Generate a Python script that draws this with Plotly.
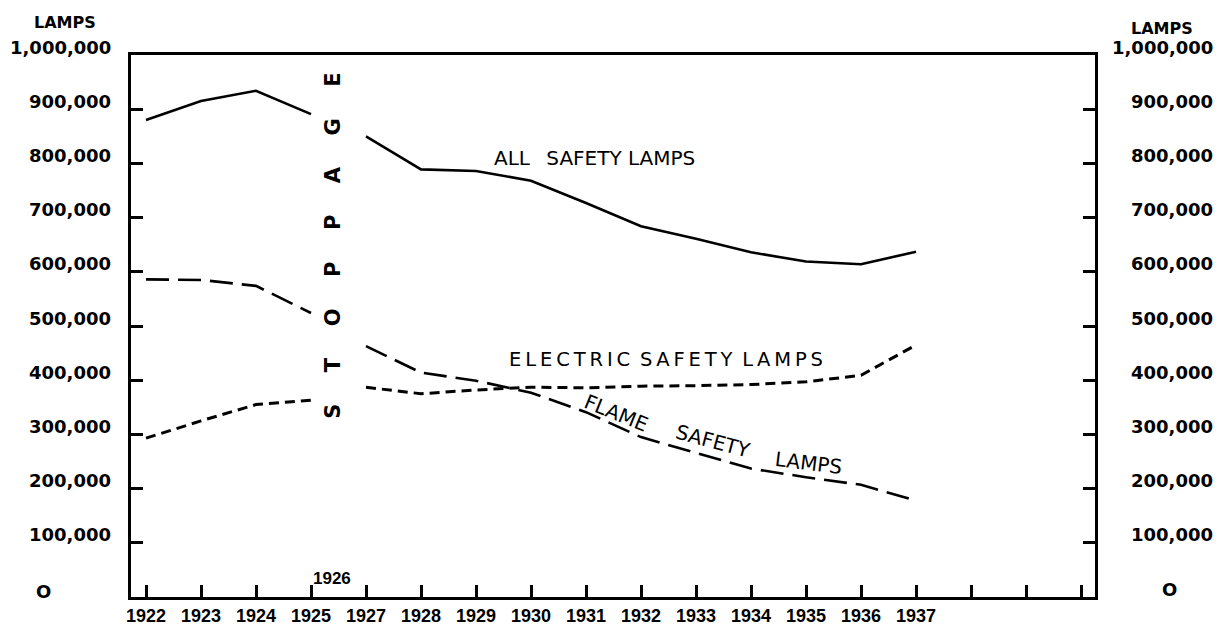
import plotly.graph_objects as go

# ---- data (lamps) ----
years = [1922, 1923, 1924, 1925, 1926, 1927, 1928, 1929, 1930,
         1931, 1932, 1933, 1934, 1935, 1936, 1937]
all_lamps = [880000, 915000, 934000, 891000, None, 850000, 789000, 786000, 768000,
             727000, 684000, 661000, 636000, 619000, 614000, 637000]
electric_lamps = [293000, 325000, 355000, 363000, None, 387000, 375000, 382000, 387000,
                  386000, 389000, 390000, 392000, 397000, 409000, 465000]
flame_lamps = [586000, 585000, 574000, 524000, None, 463000, 414000, 399000, 377000,
               341000, 295000, 266000, 237000, 221000, 207000, 178000]

tick_years = [1922, 1923, 1924, 1925, 1927, 1928, 1929, 1930, 1931,
              1932, 1933, 1934, 1935, 1936, 1937]
extra_ticks = 3
y_ticks = [0, 100000, 200000, 300000, 400000, 500000, 600000, 700000, 800000, 900000, 1000000]
y_labels = ["O", "100,000", "200,000", "300,000", "400,000", "500,000",
            "600,000", "700,000", "800,000", "900,000", "1,000,000"]
y_labels_right = ["O", "100,000", "200,000", "300,000", "400,000", "500,000",
                  "600,000", "700,000", "800,000", "900,000", "1,000,000"]


def pos(y):
    if y in tick_years:
        return tick_years.index(y)
    return 3.5  # stoppage year sits between 1925 and 1927


xpos = [pos(y) for y in years]

fig = go.Figure()
fig.add_trace(go.Scatter(x=xpos, y=all_lamps, mode="lines", connectgaps=False,
                         line=dict(color="black", width=2.6), showlegend=False))
fig.add_trace(go.Scatter(x=xpos, y=flame_lamps, mode="lines", connectgaps=False,
                         line=dict(color="black", width=2.6, dash="23px,9px"), showlegend=False))
fig.add_trace(go.Scatter(x=xpos, y=electric_lamps, mode="lines", connectgaps=False,
                         line=dict(color="black", width=3, dash="10px,6px"), showlegend=False))

ann = []
LBL = dict(family="DejaVu Sans", size=18, color="black", weight="bold")
for v, t, tr in zip(y_ticks, y_labels, y_labels_right):
    if v == 0:
        ann.append(dict(xref="paper", x=0, xshift=-88, y=v, yref="y", text=t, showarrow=False,
                        xanchor="center", yanchor="middle", yshift=6, font=LBL))
        ann.append(dict(xref="paper", x=1, xshift=74, y=v, yref="y", text=tr, showarrow=False,
                        xanchor="center", yanchor="middle", yshift=8, font=LBL))
    else:
        ann.append(dict(xref="paper", x=0, xshift=-18, y=v, yref="y", text=t, showarrow=False,
                        xanchor="right", yanchor="middle", yshift=8, font=LBL))
        ann.append(dict(xref="paper", x=1, xshift=120, y=v, yref="y", text=tr, showarrow=False,
                        xanchor="right", yanchor="middle", yshift=8, font=LBL))

HDR = dict(family="DejaVu Sans", size=16, color="black", weight="bold")
ann.append(dict(xref="paper", yref="paper", x=0, xshift=-66, y=1, yshift=33, text="LAMPS",
                showarrow=False, xanchor="center", yanchor="middle", font=HDR))
ann.append(dict(xref="paper", yref="paper", x=1, xshift=67, y=1, yshift=27, text="LAMPS",
                showarrow=False, xanchor="center", yanchor="middle", font=HDR))

TXT = dict(family="DejaVu Sans", size=20, color="black")
ann.append(dict(x=8.15, y=810000, text="ALL\u2002 SAFETY LAMPS", showarrow=False, font=TXT))
ann.append(dict(x=9.45, y=438000, text="\u2009".join("ELECTRIC") + "\u2002" + "\u2009".join("SAFETY")
                + "\u2002" + "\u2009".join("LAMPS"), showarrow=False,
                font=dict(family="DejaVu Sans", size=19.5, color="black")))
ann.append(dict(x=8.55, y=340000, text="FLAME", textangle=22, showarrow=False, font=TXT))
ann.append(dict(x=10.3, y=288000, text="SAFETY", textangle=15, showarrow=False, font=TXT))
ann.append(dict(x=12.05, y=248000, text="LAMPS", textangle=7, showarrow=False, font=TXT))
gap = "\u2003\u2002"
ann.append(dict(x=3.4, y=648000, text=gap.join(list("STOPPAGE")), textangle=-90,
                showarrow=False, font=dict(family="DejaVu Sans", size=21, color="black", weight="bold")))
ann.append(dict(x=3.38, y=35000, text="1926", showarrow=False,
                font=dict(family="Liberation Sans", size=17, color="black", weight="bold")))

fig.update_layout(
    width=1227, height=630,
    margin=dict(l=123, r=140, t=47, b=35),
    paper_bgcolor="white", plot_bgcolor="white",
    annotations=ann,
    showlegend=False,
)
fig.update_xaxes(range=[-0.2727, 17.2545], tickvals=list(range(len(tick_years) + extra_ticks)),
                 ticktext=[str(y) for y in tick_years] + [""] * extra_ticks,
                 ticks="inside", ticklen=12, tickwidth=2.5, tickcolor="black",
                 showline=True, linewidth=3, linecolor="black", mirror=True,
                 showgrid=False, zeroline=False,
                 tickfont=dict(family="Liberation Sans", size=18, color="black", weight="bold"))
fig.update_yaxes(range=[0, 1000000], tickvals=y_ticks, showticklabels=False,
                 ticks="inside", ticklen=12, tickwidth=2.5, tickcolor="black",
                 showline=True, linewidth=3, linecolor="black", mirror="ticks",
                 showgrid=False, zeroline=False)

fig.write_html("out.html")
